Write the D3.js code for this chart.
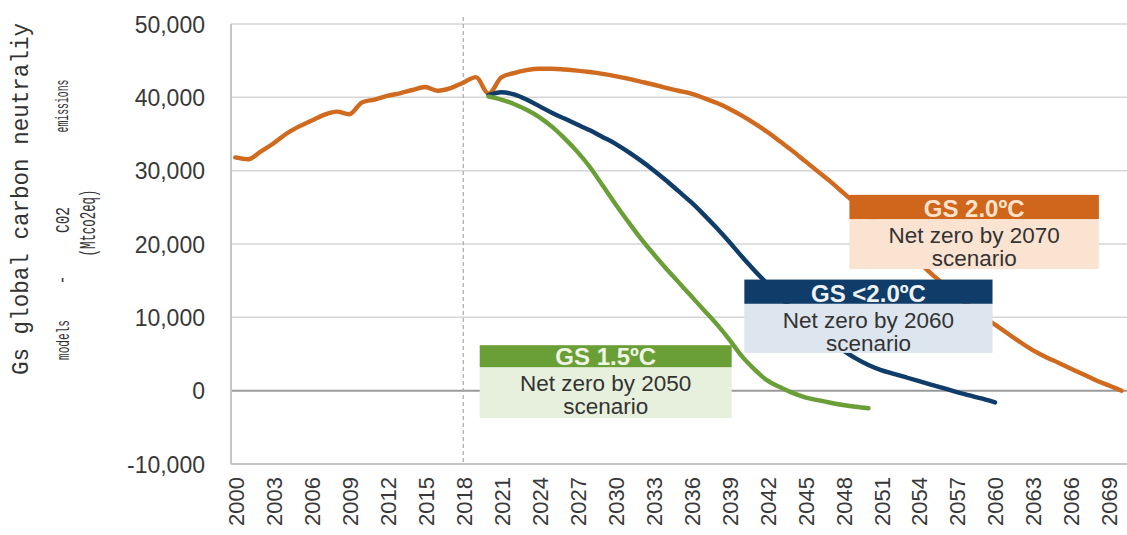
<!DOCTYPE html>
<html>
<head>
<meta charset="utf-8">
<script src="https://cdn.jsdelivr.net/npm/d3@7"></script>
<style>
  html, body { margin: 0; padding: 0; background: #ffffff; }
  svg { display: block; }
</style>
</head>
<body>
<svg id="chart" width="1127" height="535"></svg>
<script>
// ---------- DATA ----------
const years = [2000,2001,2002,2003,2004,2005,2006,2007,2008,2009,
  2010,2011,2012,2013,2014,2015,2016,2017,2018,2019,
  2020,2021,2022,2023,2024,2025,2026,2027,2028,2029,
  2030,2031,2032,2033,2034,2035,2036,2037,2038,2039,
  2040,2041,2042,2043,2044,2045,2046,2047,2048,2049,
  2050,2051,2052,2053,2054,2055,2056,2057,2058,2059,
  2060,2061,2062,2063,2064,2065,2066,2067,2068,2069,2070];

const tickYears = [2000,2003,2006,2009,2012,2015,2018,2021,2024,2027,2030,2033,
  2036,2039,2042,2045,2048,2051,2054,2057,2060,2063,2066,2069];

const yTicks = [-10000, 0, 10000, 20000, 30000, 40000, 50000];

// GS 2.0ºC (includes history 2000-2019), starts 2000
const gs20Start = 2000;
const gs20Values = [31800,31550,32600,33700,35000,36000,36800,37600,38050,37700,
  39300,39700,40200,40550,41000,41400,40900,41250,42000,42750,
  40500,42700,43300,43700,43900,43900,43800,43650,43450,43200,
  42900,42550,42150,41750,41300,40900,40500,39900,39250,38450,
  37500,36450,35300,34000,32700,31300,29900,28500,27000,25500,
  23900,22300,20700,19100,17500,15900,14400,12900,11500,10200,
  9000,7800,6600,5500,4600,3800,3000,2200,1400,700,0];

// GS <2.0ºC, starts 2020
const gsLt20Start = 2020;
const gsLt20Values = [40300,40700,40400,39700,38800,37900,37100,36300,35500,34600,
  33700,32600,31400,30100,28700,27200,25700,24000,22200,20300,
  18300,16400,14600,12800,11100,9500,8000,6700,5500,4400,
  3500,2800,2300,1800,1300,800,300,-200,-650,-1100,-1600];

// GS 1.5ºC, starts 2020
const gs15Start = 2020;
const gs15Values = [40100,39700,39100,38300,37300,36000,34400,32600,30500,28000,
  25500,23100,20800,18700,16700,14800,12900,11000,9100,7000,
  4700,2900,1400,500,-300,-900,-1300,-1650,-1950,-2200,-2400];

const historyEndYear = 2018;

// annotation labels
const noteTitles = ["GS 1.5ºC", "GS <2.0ºC", "GS 2.0ºC"];
const noteLine1 = ["Net zero by 2050", "Net zero by 2060", "Net zero by 2070"];
const noteLine2 = ["scenario", "scenario", "scenario"];

// ---------- LAYOUT / STYLE ----------
const svg = d3.select("#chart");
const plot = { left: 229, right: 1128, top: 24, bottom: 464 };

const x = d3.scalePoint().domain(years).range([plot.left, plot.right]).padding(0.5);
const xl = d3.scaleLinear().domain([2000, 2070]).range([x(2000), x(2070)]);
const y = d3.scaleLinear().domain([-10000, 50000]).range([plot.bottom, plot.top]);

const colors = { gs20: "#cf6a1f", lt20: "#0f3c68", gs15: "#6a9e37" };

// gridlines
svg.append("g").selectAll("line")
  .data(yTicks.filter(v => v !== 0 && v !== -10000))
  .join("line")
  .attr("x1", 231).attr("x2", 1127)
  .attr("y1", d => y(d)).attr("y2", d => y(d))
  .attr("stroke", "#d6d6d6").attr("stroke-width", 1.5);

// bottom line (-10,000)
svg.append("line")
  .attr("x1", 231).attr("x2", 1127)
  .attr("y1", y(-10000)).attr("y2", y(-10000))
  .attr("stroke", "#c4c4c4").attr("stroke-width", 2);

// zero line
svg.append("line")
  .attr("x1", 231).attr("x2", 1127)
  .attr("y1", y(0)).attr("y2", y(0))
  .attr("stroke", "#9a9a9a").attr("stroke-width", 2);

// left axis line
svg.append("line")
  .attr("x1", 231).attr("x2", 231)
  .attr("y1", y(50000)).attr("y2", y(-10000))
  .attr("stroke", "#c4c4c4").attr("stroke-width", 2);

// dashed history line
svg.append("line")
  .attr("x1", x(historyEndYear)).attr("x2", x(historyEndYear))
  .attr("y1", 17).attr("y2", y(-10000))
  .attr("stroke", "#a8a8a8").attr("stroke-width", 1.2)
  .attr("stroke-dasharray", "4,3");

// y axis labels
const fmt = d3.format(",");
const yAxis = d3.axisLeft(y).tickValues(yTicks).tickSize(0).tickPadding(0)
  .tickFormat(d => fmt(d).replace("\u2212", "-"));
svg.append("g")
  .attr("transform", "translate(205,0)")
  .call(yAxis)
  .call(g => g.select(".domain").remove())
  .call(g => g.selectAll("text")
    .attr("font-family", "Liberation Sans, Arial, sans-serif")
    .attr("font-size", 23).attr("fill", "#383838").attr("dy", "0.36em"));

// x axis labels
const xAxis = d3.axisBottom(x).tickValues(tickYears).tickSize(0).tickPadding(0);
svg.append("g")
  .attr("transform", "translate(0,477)")
  .call(xAxis)
  .call(g => g.select(".domain").remove())
  .call(g => g.selectAll("text")
    .attr("font-family", "Liberation Sans, Arial, sans-serif")
    .attr("font-size", 22).attr("fill", "#383838")
    .attr("text-anchor", "end")
    .attr("transform", "rotate(-90)")
    .attr("x", 0).attr("y", 0).attr("dy", "0.36em"));

// lines
function seriesPoints(start, values) {
  return values.map((v, i) => ({ year: start + i, value: v }));
}
const line = d3.line()
  .x(d => x(d.year)).y(d => y(d.value))
  .curve(d3.curveMonotoneX);

const series = [
  { key: "gs20", pts: seriesPoints(gs20Start, gs20Values) },
  { key: "lt20", pts: seriesPoints(gsLt20Start, gsLt20Values) },
  { key: "gs15", pts: seriesPoints(gs15Start, gs15Values) }
];
svg.append("g").selectAll("path")
  .data(series)
  .join("path")
  .attr("d", d => line(d.pts))
  .attr("fill", "none")
  .attr("stroke", d => colors[d.key])
  .attr("stroke-width", 4.4)
  .attr("stroke-linejoin", "round")
  .attr("stroke-linecap", "round");

// annotation boxes (positioned in data space)
const notes = [
  { i: 0, x0: 2019.3, x1: 2039.2, top: 6200, mid: 3200, bot: -3750,
    head: "#6a9e37", headText: "#eef5e2", body: "#e7f0dc" },
  { i: 1, x0: 2040.2, x1: 2059.8, top: 15150, mid: 11850, bot: 5150,
    head: "#0f3c68", headText: "#eef2f7", body: "#dde5ef" },
  { i: 2, x0: 2048.5, x1: 2068.2, top: 26700, mid: 23400, bot: 16600,
    head: "#d0661c", headText: "#fde3cc", body: "#fbe3d2" }
];
const ng = svg.append("g").selectAll("g").data(notes).join("g");
ng.append("rect")
  .attr("x", d => xl(d.x0)).attr("width", d => xl(d.x1) - xl(d.x0))
  .attr("y", d => y(d.mid)).attr("height", d => y(d.bot) - y(d.mid))
  .attr("fill", d => d.body);
ng.append("rect")
  .attr("x", d => xl(d.x0)).attr("width", d => xl(d.x1) - xl(d.x0))
  .attr("y", d => y(d.top)).attr("height", d => y(d.mid) - y(d.top))
  .attr("fill", d => d.head);
ng.append("text")
  .attr("x", d => (xl(d.x0) + xl(d.x1)) / 2)
  .attr("y", d => y(d.mid) - 2)
  .attr("text-anchor", "middle")
  .attr("font-family", "Liberation Sans, Arial, sans-serif")
  .attr("font-weight", "bold").attr("font-size", 24)
  .attr("fill", d => d.headText)
  .text(d => noteTitles[d.i]);
ng.append("text")
  .attr("x", d => (xl(d.x0) + xl(d.x1)) / 2)
  .attr("y", d => y(d.mid) + 24)
  .attr("text-anchor", "middle")
  .attr("font-family", "Liberation Sans, Arial, sans-serif")
  .attr("font-size", 22.5).attr("fill", "#333333")
  .text(d => noteLine1[d.i]);
ng.append("text")
  .attr("x", d => (xl(d.x0) + xl(d.x1)) / 2)
  .attr("y", d => y(d.mid) + 47)
  .attr("text-anchor", "middle")
  .attr("font-family", "Liberation Sans, Arial, sans-serif")
  .attr("font-size", 22.5).attr("fill", "#333333")
  .text(d => noteLine2[d.i]);

// y axis title (three rotated lines)
const titleParts = [
  { t: "Gs global carbon neutraliy", cx: 20, cy: 199, fs: 24, len: 352 },
  { t: "models", cx: 62, cy: 340, fs: 19, len: 40 },
  { t: "-", cx: 62, cy: 280, fs: 18, len: 9 },
  { t: "C02", cx: 62, cy: 220, fs: 20, len: 26 },
  { t: "emissions", cx: 62, cy: 106, fs: 18, len: 53 },
  { t: "(Mtco2eq)", cx: 87, cy: 223, fs: 22, len: 67 }
];
svg.append("g").selectAll("text")
  .data(titleParts)
  .join("text")
  .attr("transform", d => `translate(${d.cx},${d.cy}) rotate(-90)`)
  .attr("text-anchor", "middle")
  .attr("dy", "0.35em")
  .attr("font-family", "Liberation Mono, DejaVu Sans Mono, monospace")
  .attr("font-size", d => d.fs)
  .attr("textLength", d => d.len)
  .attr("lengthAdjust", "spacingAndGlyphs")
  .attr("fill", "#333333")
  .text(d => d.t);
</script>
</body>
</html>
